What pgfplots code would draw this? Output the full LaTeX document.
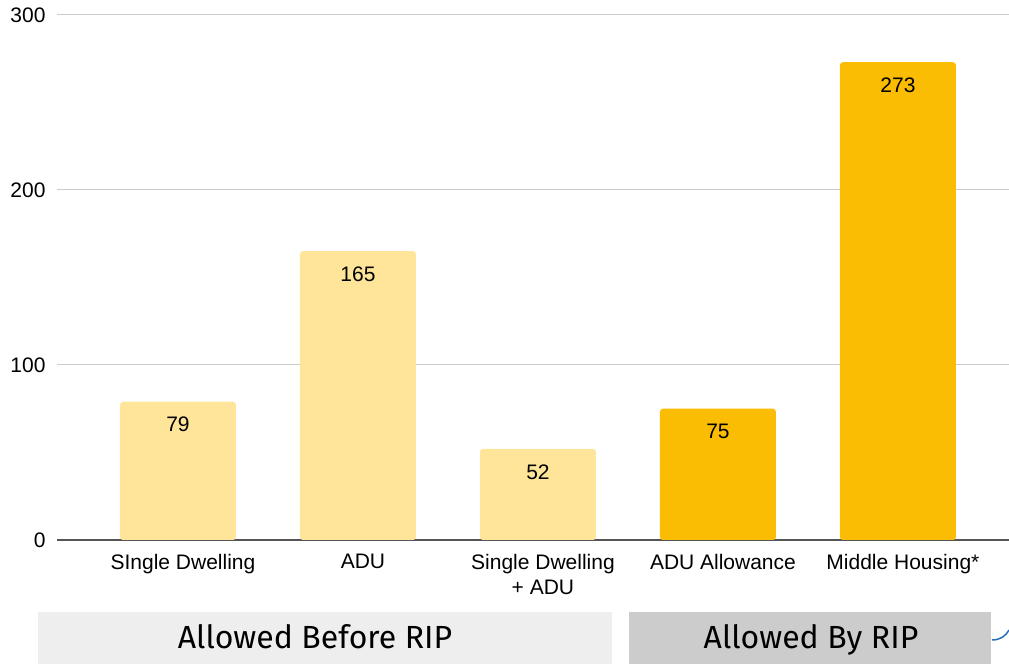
\documentclass[border=0pt]{standalone}
\usepackage{pgfplots}
\pgfplotsset{compat=1.18}
\usepackage{fontspec}
\setmainfont{Liberation Sans}
\newfontfamily\boxfont{Fira Sans}
\definecolor{lightbar}{HTML}{FFE599}
\definecolor{darkbar}{HTML}{FBBC04}
\definecolor{gridc}{HTML}{CCCCCC}
\definecolor{axisc}{HTML}{555555}
\definecolor{boxA}{HTML}{EEEEEE}
\definecolor{boxB}{HTML}{CCCCCC}
\definecolor{arcc}{HTML}{2A6EBB}
\begin{document}
\begin{tikzpicture}[x=1pt,y=1pt]
\useasboundingbox (0,0) rectangle (1009,664);
\fill[boxA] (38,0) rectangle (612,52);
\fill[boxB] (629,0) rectangle (991,52);
\node[font=\boxfont\fontsize{32}{32}\selectfont, anchor=base] at (315,16) {Allowed Before RIP};
\node[font=\boxfont\fontsize{32}{32}\selectfont, anchor=base] at (811,16) {Allowed By RIP};
\draw[arcc, line width=1.5pt] (992,24) .. controls (1000,24) and (1006,28) .. (1009,34);
\begin{axis}[
  at={(57pt,124pt)}, anchor=south west,
  width=952pt, height=525pt, scale only axis,
  xmin=-0.672, xmax=4.617, ymin=0, ymax=300,
  ytick={0,100,200,300},
  xtick={0,1,2,3,4},
  xticklabels={SIngle Dwelling, ADU, {Single Dwelling\\+ ADU}, ADU Allowance, Middle Housing*},
  axis lines*=left,
  y axis line style={draw=none},
  x axis line style={axisc, line width=2pt},
  major tick length=0pt,
  ymajorgrids,
  grid style={gridc, line width=1pt},
  /pgf/number format/assume math mode=true,
  yticklabel style={font=\fontsize{21}{21}\selectfont, xshift=-8pt},
  xticklabel style={font=\fontsize{21}{25}\selectfont, align=center, yshift=-11pt, xshift=5pt},
  ybar, bar width=116pt,
  nodes near coords,
  every node near coord/.append style={font=\fontsize{21}{21}\selectfont, anchor=north, yshift=-12pt, text=black},
  clip=false,
]
\addplot[fill=lightbar, draw=none, bar shift=0pt, rounded corners=3pt] coordinates {(0,79) (1,165) (2,52)};
\addplot[fill=darkbar, draw=none, bar shift=0pt, rounded corners=3pt] coordinates {(3,75) (4,273)};
\end{axis}
\end{tikzpicture}
\end{document}
